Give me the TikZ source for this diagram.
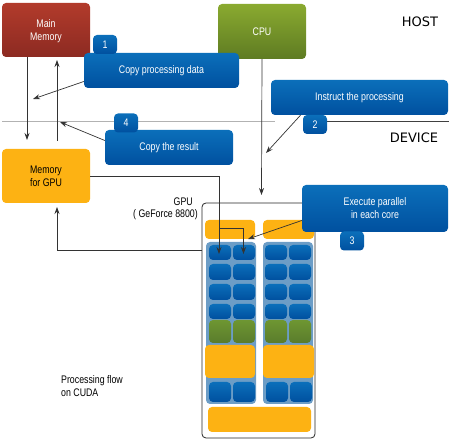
\documentclass[tikz,border=0pt]{standalone}
\usepackage{fontspec}
\setmainfont[FakeStretch=0.8]{Liberation Sans}
\newfontfamily\labelfont{DejaVu Sans}
\usetikzlibrary{arrows.meta, positioning}

\definecolor{bluetop}{HTML}{0B6FBA}
\definecolor{bluebot}{HTML}{00509F}
\definecolor{panelblue}{HTML}{6C9DC6}
\definecolor{gpuorange}{HTML}{FDB213}
\definecolor{redtop}{HTML}{B23B2B}
\definecolor{redbot}{HTML}{8C2A22}
\definecolor{greentop}{HTML}{8AAA30}
\definecolor{greenbot}{HTML}{5E7B22}
\definecolor{celltop}{HTML}{6E9632}
\definecolor{cellbot}{HTML}{5A7C2C}

\tikzset{
  box/.style={rounded corners=4pt, inner sep=0pt, align=center, font=\fontsize{11}{13}\selectfont},
  bluebox/.style={box, top color=bluetop, bottom color=bluebot, text=white},
  numbox/.style={bluebox, minimum width=24pt, minimum height=19pt},
  cell/.style={rounded corners=4pt, top color=bluetop, bottom color=bluebot, inner sep=0pt},
  greencell/.style={rounded corners=4pt, top color=celltop, bottom color=cellbot, inner sep=0pt},
  orangebox/.style={rounded corners=4pt, fill=gpuorange, inner sep=0pt},
  conn/.style={draw=black!80, line width=.7pt, -{Stealth[length=7pt, width=5pt]}},
  plain/.style={draw=black!80, line width=.7pt},
  note/.style={font=\fontsize{11}{13}\selectfont, align=left, inner sep=0pt},
  bigtext/.style={inner sep=0pt, font=\labelfont\fontsize{13}{15}\selectfont}
}

\begin{document}
\begin{tikzpicture}[x=1pt, y=-1pt]
  \useasboundingbox (0,0) rectangle (451,441);

  % host and device
  \coordinate (sepa) at (2,121);
  \coordinate (sepb) at (275,121);
  \coordinate (sepc) at (325,121);
  \coordinate (sepd) at (449,121);
  \draw[black!30, line width=.8pt] (sepa) -- (sepb);
  \draw[black!75, line width=.6pt] (sepc) -- (sepd);
  \node[bigtext] (host) at (420,22) {HOST};
  \node[bigtext] (device) at (414,138) {DEVICE};

  \node[box, minimum width=88pt, minimum height=54pt, top color=redtop, bottom color=redbot] (mainmem) at (46,30) {};
  \node[box, text=white] (mainlabel) at (46,31.5) {Main\\Memory};
  \node[box, minimum width=88pt, minimum height=55pt, text=white, top color=greentop, bottom color=greenbot] (cpu) at (262,31.5) {CPU};
  \node[box, orangebox, minimum width=88pt, minimum height=54pt] (gpumem) at (46,176) {Memory\\for GPU};

  % gpu board
  \node[draw=black!85, line width=.8pt, rounded corners=4pt, minimum width=113pt, minimum height=235pt, inner sep=0pt] (board) at (258.5,320.5) {};
  \node[note, anchor=east] (gpua) at (193,202) {GPU};
  \node[note, anchor=east] (gpub) at (198,215) {( GeForce 8800)};

  \node[orangebox, minimum width=50pt, minimum height=19pt] (topl) at (230,229.5) {};
  \node[orangebox, minimum width=51pt, minimum height=19pt] (topr) at (288.5,229.5) {};
  \node[fill=panelblue, rounded corners=4pt, minimum width=50pt, minimum height=162pt, inner sep=0pt] (panell) at (231,323) {};
  \node[fill=panelblue, rounded corners=4pt, minimum width=50pt, minimum height=162pt, inner sep=0pt] (panelr) at (288,323) {};

  % core cells
  \foreach \cx in {220,244,276,300} {
    \foreach \cy/\ch in {252.5/15,272/16,292/16,311.5/15} {
      \node[cell, minimum width=22pt, minimum height=\ch pt] at (\cx,\cy) {};
    }
    \node[greencell, minimum width=22pt, minimum height=23pt] at (\cx,331.5) {};
  }
  \foreach \cx in {220,244,277,301} {
    \node[cell, minimum width=22pt, minimum height=20pt] at (\cx,392) {};
  }
  \node[orangebox, minimum width=50pt, minimum height=33pt] (midl) at (230,361.5) {};
  \node[orangebox, minimum width=51pt, minimum height=33pt] (midr) at (288.5,361.5) {};
  \node[orangebox, minimum width=103pt, minimum height=25pt] (botm) at (259.5,419.5) {};

  % connectors
  \coordinate (cpuend) at (261.5,195);
  \coordinate (downend) at (27,140);
  \coordinate (upstart) at (57,141);
  \coordinate (upend) at (57,60);
  \coordinate (backstart) at (202,250);
  \coordinate (backend) at (57,207);
  \coordinate (fork) at (219,228);
  \coordinate (forkb) at (243.5,228);
  \coordinate (tipa) at (219,254);
  \coordinate (tipb) at (243.5,254);
  \draw[conn] (cpu.south) -- (cpuend);
  \draw[conn] ([xshift=-19pt]mainmem.south) -- (downend);
  \draw[conn] (upstart) -- (upend);
  \draw[conn] (backstart) -| (backend);
  \draw[plain] (gpumem.east) -| (fork);
  \draw[conn] (fork) -- (tipa);
  \draw[conn] (fork) -- (forkb) -- (tipb);

  \node[bluebox, minimum width=155pt, minimum height=35pt] (copydata) at (161.5,70.5) {Copy processing data};
  \node[numbox] (one) at (105,44.5) {1};
  \node[bluebox, minimum width=128pt, minimum height=35pt] (copyres) at (169,147.5) {Copy the result};
  \node[numbox] (four) at (126,123) {4};
  \node[bluebox, minimum width=177pt, minimum height=35pt] (instruct) at (359.5,97.5) {Instruct the processing};
  \node[numbox] (two) at (315,124.5) {2};
  \node[bluebox, minimum width=146pt, minimum height=47pt] (execute) at (375,208.5) {Execute parallel\\in each core};
  \node[numbox] (three) at (352,241) {3};

  \coordinate (dataend) at (33,99);
  \coordinate (resend) at (60,122);
  \coordinate (insend) at (266,153);
  \coordinate (exeend) at (248,239);
  \draw[conn] ([yshift=-11pt]copydata.west) -- (dataend);
  \draw[conn] ([yshift=7pt]copyres.west) -- (resend);
  \draw[conn] ([xshift=-59pt]instruct.south) -- (insend);
  \draw[conn] ([yshift=-12pt]execute.west) -- (exeend);

  \node[note, anchor=north west] (flow) at (61,375) {Processing flow\\on CUDA};
\end{tikzpicture}
\end{document}
